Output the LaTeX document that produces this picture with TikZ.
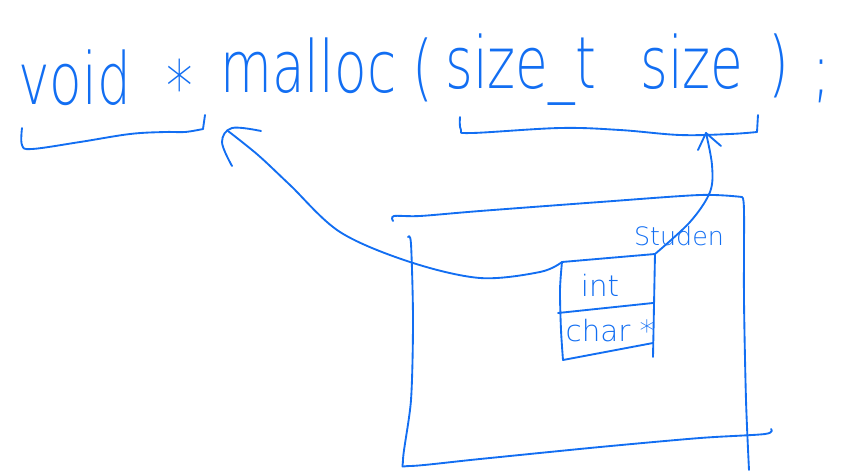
\documentclass[tikz,border=0pt]{standalone}
\usepackage{fontspec}
\newfontfamily\hand[FakeStretch=0.74]{DejaVu Sans ExtraLight}
\newfontfamily\handw{DejaVu Sans ExtraLight}
\definecolor{ink}{RGB}{18,110,242}
\tikzset{
  pen/.style={draw=ink, line width=1.4pt, line cap=round, line join=round},
  big/.style={text=ink, inner sep=0pt, font=\hand\fontsize{54}{54}\selectfont},
  small/.style={text=ink, inner sep=0pt, font=\handw\fontsize{19}{19}\selectfont}
}
\begin{document}
\begin{tikzpicture}[x=0.75pt,y=-0.75pt]
\useasboundingbox (0,0) rectangle (851,472);
% code line
\node[big, anchor=base west] (void) at (18,104) {void};
\node[big, anchor=center] (star) at (180,86) {*};
\node[big, anchor=base west] (malloc) at (220,92) {malloc};
\node[big, anchor=base west] (lpar) at (412,92) {(};
\node[big, anchor=base west] (sizet) at (445,88) {size\_t};
\node[big, anchor=base west] (size) at (640,88) {size};
\node[big, anchor=base west] (rpar) at (768,88) {)};
\node[big, anchor=base west] (semi) at (812,94) {;};
% braces
\coordinate (lb) at (228,131);
\coordinate (rb) at (706,133);
\draw[pen] plot[smooth, tension=0.6] coordinates {(22,128) (22,145) (32,149) (80,142) (130,134) (165,132) (185,132) (203,129)};
\draw[pen] (203,129) -- (205,115);
\draw[pen] plot[smooth, tension=0.6] coordinates {(460,117) (461,130) (472,133) (560,128) (620,130) (680,135) (730,134) (757,132)};
\draw[pen] (757,132) -- (758,115);
% big box
\draw[pen] plot[smooth, tension=0.5] coordinates {(393,221) (394,216) (420,216) (480,211) (600,202) (700,195) (742,197)};
\draw[pen] plot[smooth, tension=0.5] coordinates {(742,197) (744,210) (744,300) (746,400) (749,470)};
\draw[pen] plot[smooth, tension=0.5] coordinates {(408,237) (411,244) (413,320) (411,400) (403,460) (410,466) (480,459) (600,447) (700,438) (765,434) (771,429)};
% inner struct box
\coordinate (tl) at (562,262);
\coordinate (tr) at (655,254);
\coordinate (bl) at (563,360);
\coordinate (br) at (653,357);
\draw[pen] (tl) -- (tr);
\draw[pen] plot[smooth, tension=0.5] coordinates {(tl) (560,290) (561,330) (bl)};
\draw[pen] (bl) -- (653,343);
\draw[pen] (558,313) -- (653,303);
\draw[pen] (tr) -- (br);
\node[small, anchor=base, font=\handw\fontsize{22}{22}\selectfont] (int) at (600,296) {int};
\node[small, anchor=base, font=\handw\fontsize{22}{22}\selectfont] (char) at (610,341) {char *};
\node[small, anchor=base] (stud) at (679,245) {Studen};
% arrows
\draw[pen] plot[smooth, tension=0.55] coordinates {(tl) (540,272) (480,278) (410,262) (340,232) (290,185) (258,155) (lb)};
\draw[pen] plot[smooth, tension=0.6] coordinates {(232,166) (222,142) (232,128) (261,131)};
\draw[pen] plot[smooth, tension=0.55] coordinates {(tr) (690,222) (710,192) (712,165) (rb)};
\draw[pen] (698,150) -- (rb) -- (721,146);
\end{tikzpicture}
\end{document}
